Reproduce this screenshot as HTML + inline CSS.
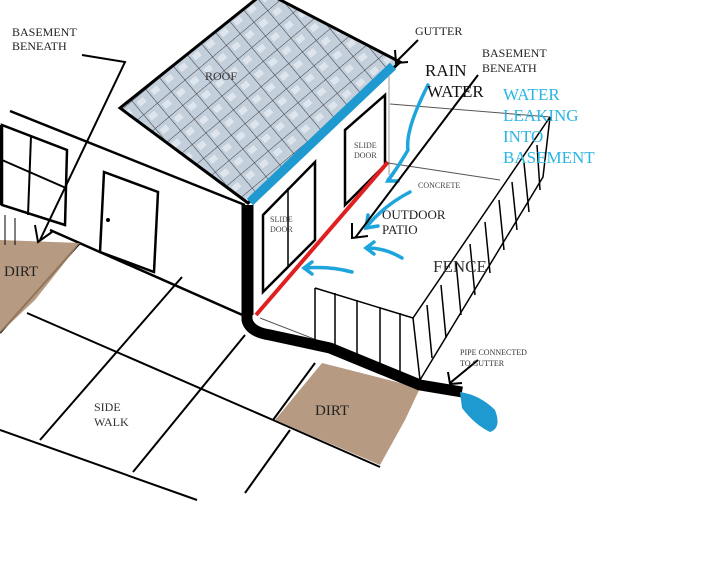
<!DOCTYPE html>
<html><head><meta charset="utf-8"><style>
html,body{margin:0;padding:0;background:#fff;}
svg{display:block;font-family:"Liberation Serif",serif;}
</style></head><body>
<svg width="720" height="561" viewBox="0 0 720 561" xmlns="http://www.w3.org/2000/svg">
<defs>
<pattern id="grid" width="18" height="18" patternUnits="userSpaceOnUse" patternTransform="rotate(-40)">
<rect width="18" height="18" fill="#c4cfdc"/>
<rect x="3" y="4" width="8" height="6" fill="#dfe5ec"/>
<path d="M0 0H18M0 0V18" stroke="#3a3f48" stroke-width="1.1"/>
</pattern>
</defs>
<rect width="720" height="561" fill="#fff"/>
<!-- roof -->
<polygon points="120,108 265,-8 400,62 248,203" fill="url(#grid)" stroke="#000" stroke-width="3"/>
<line x1="250" y1="202" x2="393" y2="66" stroke="#1f9ad0" stroke-width="9"/>
<text x="205" y="80" font-size="12" fill="#333">ROOF</text>
<!-- left wall -->
<line x1="10" y1="111" x2="245" y2="205" stroke="#000" stroke-width="2.5"/>
<line x1="50" y1="230" x2="247" y2="317" stroke="#000" stroke-width="2.5"/>
<polygon points="2,125 67,150 65,225 2,205" fill="none" stroke="#000" stroke-width="2.5"/>
<line x1="31" y1="136" x2="28" y2="215" stroke="#000" stroke-width="2"/>
<line x1="2" y1="160" x2="66" y2="188" stroke="#000" stroke-width="2"/>
<line x1="0" y1="125" x2="0" y2="205" stroke="#000" stroke-width="5"/>
<polygon points="104,172 158,192 154,272 100,252" fill="none" stroke="#000" stroke-width="2.5"/>
<circle cx="108" cy="220" r="2"/>
<!-- sidewalk -->
<g stroke="#000" stroke-width="2" fill="none">
<line x1="27" y1="313" x2="273" y2="420"/>
<line x1="0" y1="430" x2="197" y2="500"/>
<line x1="182" y1="277" x2="40" y2="440"/>
<line x1="245" y1="335" x2="133" y2="472"/>
<line x1="315" y1="363" x2="273" y2="420"/>
<line x1="290" y1="430" x2="245" y2="493"/>
<line x1="273" y1="420" x2="380" y2="467"/>
<line x1="80" y1="243" x2="0" y2="333"/>
</g>
<!-- dirt -->
<polygon points="0,240 80,243 35,300 0,333" fill="#a98a6c" opacity="0.85"/>
<text x="4" y="276" font-size="15" fill="#222">DIRT</text>
<polygon points="322,363 420,388 405,420 380,465 275,420" fill="#a98a6c" opacity="0.85"/>
<text x="315" y="415" font-size="15" fill="#222">DIRT</text>
<line x1="5" y1="215" x2="5" y2="245" stroke="#000"/><line x1="15" y1="218" x2="15" y2="245" stroke="#000"/>
<!-- right wall -->
<line x1="252" y1="315" x2="252" y2="205" stroke="#000" stroke-width="3"/>
<line x1="389" y1="75" x2="389" y2="175" stroke="#999" stroke-width="1"/>
<polygon points="263,215 315,162 315,240 263,292" fill="none" stroke="#000" stroke-width="2.5"/>
<line x1="288" y1="188" x2="288" y2="266" stroke="#000" stroke-width="1.5"/>
<text x="270" y="222" font-size="8" fill="#444">SLIDE</text><text x="270" y="232" font-size="8" fill="#444">DOOR</text>
<polygon points="345,130 385,95 385,165 345,205" fill="none" stroke="#000" stroke-width="2.5"/>
<text x="354" y="148" font-size="8" fill="#444">SLIDE</text><text x="354" y="158" font-size="8" fill="#444">DOOR</text>
<line x1="256" y1="315" x2="388" y2="162" stroke="#e02020" stroke-width="4"/>
<!-- patio -->
<g stroke="#555" stroke-width="1" fill="none">
<line x1="390" y1="104" x2="550" y2="117"/>
<line x1="388" y1="163" x2="500" y2="180"/>
<line x1="260" y1="318" x2="415" y2="378"/>
</g>
<g stroke="#000" stroke-width="1.5" fill="none">
<polyline points="315,288 413,318 550,117 543,177 420,380"/>
<polyline points="315,288 315,345 420,380"/>
<line x1="413" y1="318" x2="420" y2="380"/>
<line x1="335" y1="293" x2="335" y2="350"/><line x1="357" y1="300" x2="357" y2="358"/>
<line x1="380" y1="307" x2="380" y2="365"/><line x1="400" y1="313" x2="400" y2="372"/>
<line x1="427" y1="305" x2="432" y2="358"/><line x1="441" y1="285" x2="446" y2="338"/>
<line x1="456" y1="262" x2="461" y2="315"/><line x1="470" y1="244" x2="475" y2="295"/>
<line x1="485" y1="222" x2="490" y2="273"/><line x1="499" y1="200" x2="504" y2="250"/>
<line x1="512" y1="182" x2="517" y2="230"/><line x1="524" y1="163" x2="529" y2="212"/>
<line x1="537" y1="145" x2="540" y2="190"/>
</g>
<text x="433" y="272" font-size="17" fill="#333">FENCE</text>
<text x="418" y="188" font-size="8" fill="#444">CONCRETE</text>
<text x="382" y="219" font-size="13" fill="#222">OUTDOOR</text>
<text x="382" y="234" font-size="13" fill="#222">PATIO</text>
<!-- pipe -->
<path d="M247,205 V320 Q250,332 270,335 L330,348 L420,385 L462,392" stroke="#000" stroke-width="11" fill="none" stroke-linejoin="round"/>
<path d="M460,392 Q480,395 495,410 Q502,428 490,432 Q475,425 462,408 Z" fill="#1f9ad0"/>
<!-- blue arrows -->
<g stroke="#1ea5dc" stroke-width="3.5" fill="none" stroke-linecap="round">
<path d="M428,85 Q405,130 408,150 Q395,172 388,180"/><path d="M394,172 L388,181 L398,181"/>
<path d="M410,192 Q385,205 368,225"/><path d="M368,215 L366,228 L378,226"/>
<path d="M402,258 Q385,248 368,248"/><path d="M374,242 L366,248 L374,254"/>
<path d="M352,272 Q330,266 305,268"/><path d="M312,262 L304,268 L312,274"/>
</g>
<!-- labels and black arrows -->
<g stroke="#000" stroke-width="2" fill="none">
<polyline points="82,55 125,62 40,240"/><path d="M35,225 L38,242 L52,232"/>
<line x1="418" y1="40" x2="396" y2="62"/><path d="M395,50 L396,63 L408,62"/>
<line x1="478" y1="75" x2="355" y2="238"/><path d="M352,223 L352,238 L368,236"/>
<line x1="478" y1="360" x2="450" y2="383"/><path d="M448,372 L450,384 L462,383"/>
</g>
<text x="12" y="36" font-size="12" fill="#222">BASEMENT</text>
<text x="12" y="50" font-size="12" fill="#222">BENEATH</text>
<text x="415" y="35" font-size="12" fill="#222">GUTTER</text>
<text x="482" y="57" font-size="12" fill="#222">BASEMENT</text>
<text x="482" y="72" font-size="12" fill="#222">BENEATH</text>
<text x="425" y="76" font-size="17" fill="#111">RAIN</text>
<text x="427" y="97" font-size="17" fill="#111">WATER</text>
<g font-size="17" fill="#29b6e0">
<text x="503" y="100">WATER</text><text x="503" y="121">LEAKING</text>
<text x="503" y="142">INTO</text><text x="503" y="163">BASEMENT</text>
</g>
<text x="460" y="355" font-size="8" fill="#333">PIPE CONNECTED</text>
<text x="460" y="366" font-size="8" fill="#333">TO GUTTER</text>
<text x="94" y="411" font-size="12" fill="#333">SIDE</text>
<text x="94" y="426" font-size="12" fill="#333">WALK</text>
</svg>
</body></html>
